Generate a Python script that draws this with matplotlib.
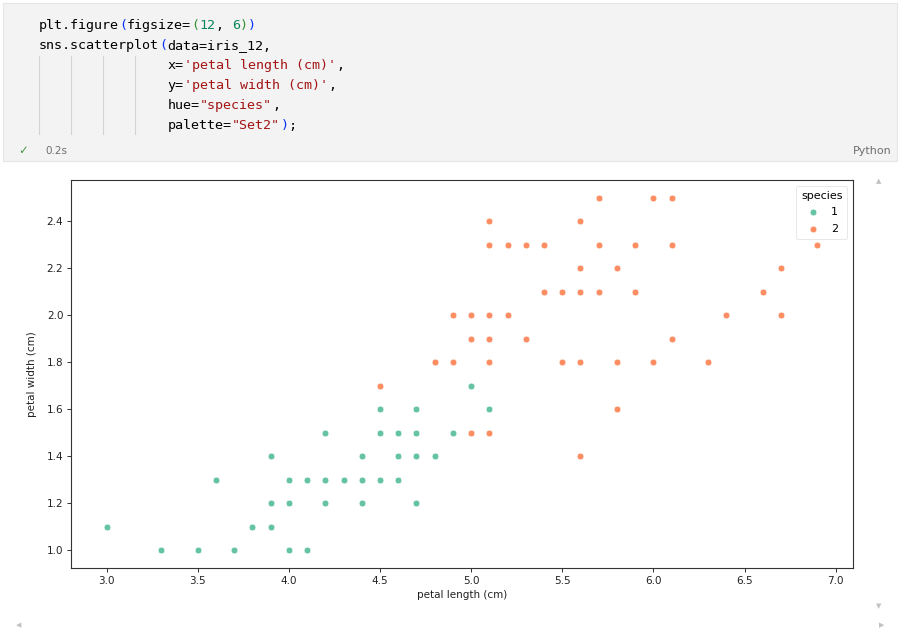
import matplotlib
matplotlib.use("Agg")
import matplotlib.pyplot as plt
from matplotlib.patches import Rectangle
import pandas as pd

# ---- data (distinct points) ----
petal_length_1 = [3.0, 3.3, 3.5, 3.7, 3.6, 3.8, 3.9, 3.9, 3.9, 4.0, 4.0, 4.0, 4.1, 4.1,
                  4.2, 4.2, 4.2, 4.3, 4.4, 4.4, 4.4, 4.5, 4.5, 4.5, 4.6, 4.6, 4.6,
                  4.7, 4.7, 4.7, 4.7, 4.8, 4.9, 5.0, 5.1, 4.8]
petal_width_1 = [1.1, 1.0, 1.0, 1.0, 1.3, 1.1, 1.1, 1.2, 1.4, 1.3, 1.2, 1.0, 1.3, 1.0,
                 1.3, 1.2, 1.5, 1.3, 1.4, 1.3, 1.2, 1.3, 1.5, 1.6, 1.5, 1.4, 1.3,
                 1.6, 1.5, 1.4, 1.2, 1.4, 1.5, 1.7, 1.6, 1.8]
petal_length_2 = [5.7, 6.0, 6.1,
                  5.1, 5.6,
                  5.1, 5.2, 5.3, 5.4, 5.7, 5.9, 6.1, 6.9,
                  5.6, 5.8, 6.7,
                  5.4, 5.5, 5.6, 5.7, 5.9, 6.6,
                  4.9, 5.0, 5.1, 5.2, 6.4, 6.7,
                  5.0, 5.1, 5.3, 6.1,
                  4.8, 4.9, 5.1, 5.5, 5.6, 5.8, 6.0, 6.3,
                  4.5, 5.8, 5.0, 5.1, 5.6]
petal_width_2 = [2.5, 2.5, 2.5,
                 2.4, 2.4,
                 2.3, 2.3, 2.3, 2.3, 2.3, 2.3, 2.3, 2.3,
                 2.2, 2.2, 2.2,
                 2.1, 2.1, 2.1, 2.1, 2.1, 2.1,
                 2.0, 2.0, 2.0, 2.0, 2.0, 2.0,
                 1.9, 1.9, 1.9, 1.9,
                 1.8, 1.8, 1.8, 1.8, 1.8, 1.8, 1.8, 1.8,
                 1.7, 1.6, 1.5, 1.5, 1.4]
species_labels = ["1", "2"]
x_ticks = [3.0, 3.5, 4.0, 4.5, 5.0, 5.5, 6.0, 6.5, 7.0]
y_ticks = [1.0, 1.2, 1.4, 1.6, 1.8, 2.0, 2.2, 2.4]

iris_12 = pd.DataFrame({
    "petal length (cm)": petal_length_1 + petal_length_2,
    "petal width (cm)": petal_width_1 + petal_width_2,
    "species": [species_labels[0]] * len(petal_length_1) + [species_labels[1]] * len(petal_length_2),
})

W, H = 900, 629
fig = plt.figure(figsize=(W / 100, H / 100), dpi=100)
fig.patch.set_facecolor("white")


def fx(px):
    return px / W


def fy(py):
    return 1 - py / H


# ---- code cell background ----
fig.patches.append(Rectangle((fx(3), fy(161)), fx(894), 158 / H, transform=fig.transFigure,
                             facecolor="#f3f3f3", edgecolor="#e6e6e6", linewidth=0.8, zorder=0))

BLK = "#000000"
BLUE = "#0431fa"
GRN = "#319331"
NUM = "#098658"
STR = "#a31515"
code_lines = [
    (0, [("plt.figure", BLK), ("(", BLUE), ("figsize=", BLK), ("(", GRN), ("12", NUM),
         (", ", BLK), ("6", NUM), (")", GRN), (")", BLUE)]),
    (0, [("sns.scatterplot", BLK), ("(", BLUE), ("data=iris_12,", BLK)]),
    (16, [("x=", BLK), ("'petal length (cm)'", STR), (",", BLK)]),
    (16, [("y=", BLK), ("'petal width (cm)'", STR), (",", BLK)]),
    (16, [("hue=", BLK), ('"species"', STR), (",", BLK)]),
    (16, [("palette=", BLK), ('"Set2"', STR), (")", BLUE), (";", BLK)]),
]
CW = 8.06
X0 = 38.5
CODE_FS = CW / 0.602 * 72 / 100
for i, (col, segs) in enumerate(code_lines):
    yb = 29 + 20 * i
    c = col
    for txt, colr in segs:
        fig.text(fx(X0 + c * CW), fy(yb), txt, family="DejaVu Sans Mono", fontsize=CODE_FS,
                 color=colr, va="baseline", ha="left")
        c += len(txt)

# indent guides
for gx in [38.5, 70.7, 102.9, 135.1]:
    fig.add_artist(plt.Line2D([fx(gx), fx(gx)], [fy(56), fy(134)], transform=fig.transFigure,
                              color="#d3d3d3", linewidth=0.8))

fig.text(fx(23), fy(151), "\u2713", fontsize=8.5, color="#4c9a48", ha="center", va="center")
fig.text(fx(45), fy(151), "0.2s", fontsize=7.5, color="#6f6f6f", ha="left", va="center")
fig.text(fx(892), fy(151), "Python", fontsize=8, color="#6f6f6f", ha="right", va="center")

# scroll arrows
arrow_kw = dict(fontsize=5, color="#c2c2c2", ha="center", va="center")
fig.text(fx(879), fy(181), "\u25B2", **arrow_kw)
fig.text(fx(879), fy(606), "\u25BC", **arrow_kw)
fig.text(fx(19), fy(625), "\u25C0", **arrow_kw)
fig.text(fx(882), fy(625), "\u25B6", **arrow_kw)

# ---- chart ----
ax = fig.add_axes([fx(71), fy(568), 782 / W, 388 / H])
palette = ["#66c2a5", "#fc8d62"]
for lab, colr in zip(species_labels, palette):
    sub = iris_12[iris_12["species"] == lab]
    ax.scatter(sub["petal length (cm)"], sub["petal width (cm)"], s=24, color=colr,
               edgecolors="white", linewidths=0.5, label=lab, zorder=2)

ax.set_xticks(x_ticks)
ax.set_yticks(y_ticks)
ax.set_xticklabels([f"{v:.1f}" for v in x_ticks])
ax.set_yticklabels([f"{v:.1f}" for v in y_ticks])
ax.margins(0.05)
ax.tick_params(labelsize=7.5, length=3, width=0.7, color="#333333", labelcolor="#222222", pad=2.5)
for sp in ax.spines.values():
    sp.set_linewidth(0.8)
    sp.set_color("#333333")
ax.set_xlabel("petal length (cm)", fontsize=7.5, color="#222222", labelpad=3)
ax.set_ylabel("petal width (cm)", fontsize=7.5, color="#222222", labelpad=7)
leg = ax.legend(title="species", loc="upper right", fontsize=8, title_fontsize=8,
                markerscale=1.0, handletextpad=0.9, borderpad=0.45, labelspacing=0.6,
                handlelength=1.4, markerfirst=True, borderaxespad=0.5)
leg.get_frame().set_linewidth(0.6)
leg.get_frame().set_edgecolor("#dddddd")

fig.savefig("out.png", dpi=100, facecolor="white")
